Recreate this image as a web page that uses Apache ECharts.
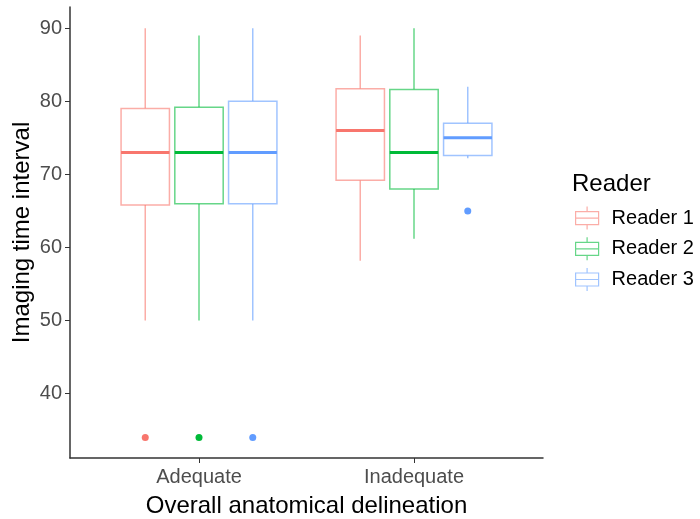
<!DOCTYPE html>
<html>
<head>
<meta charset="utf-8">
<script src="https://cdn.jsdelivr.net/npm/echarts@6/dist/echarts.min.js"></script>
<style>
  html, body { margin: 0; padding: 0; background: #fff; }
  #chart { width: 700px; height: 519px; }
</style>
</head>
<body>
<div id="chart"></div>
<script>
// categories and readers
const categories = ['Adequate', 'Inadequate']
const readers = ['Reader 1', 'Reader 2', 'Reader 3']
const colors = ['#F8766D', '#00BA38', '#619CFF']
const yTicks = [40, 50, 60, 70, 80, 90]

// box stats per reader: [low whisker, Q1, median, Q3, high whisker], one row per category
const reader1Boxes = [[50, 65.8, 73, 79, 90], [58.2, 69.2, 76, 81.7, 89]]
const reader2Boxes = [[50, 66, 73, 79.2, 89], [61.2, 68, 73, 81.6, 90]]
const reader3Boxes = [[50, 66, 73, 80, 90], [72.2, 72.6, 75, 77, 82]]

// outliers: [category index, value]
const reader1Outliers = [[0, 34]]
const reader2Outliers = [[0, 34]]
const reader3Outliers = [[0, 34], [1, 65]]

const boxesByReader = [reader1Boxes, reader2Boxes, reader3Boxes]
const outliersByReader = [reader1Outliers, reader2Outliers, reader3Outliers]

const dodge = 0.25
const boxWidth = 0.225
const font = '"Liberation Sans", Arial, sans-serif'

function hexAlpha(hex, a) {
  const n = parseInt(hex.slice(1), 16)
  return 'rgba(' + (n >> 16) + ',' + ((n >> 8) & 255) + ',' + (n & 255) + ',' + a + ')'
}

const series = []
readers.forEach(function (name, r) {
  const color = colors[r]
  const offset = (r - 1) * dodge
  series.push({
    name: name,
    type: 'custom',
    coordinateSystem: 'cartesian2d',
    itemStyle: { color: color },
    data: boxesByReader[r].map(function (b, c) {
      return [c + 1 + offset].concat(b)
    }),
    renderItem: function (params, api) {
      const x = api.value(0)
      const lo = api.coord([x, api.value(1)])
      const q1 = api.coord([x, api.value(2)])
      const med = api.coord([x, api.value(3)])
      const q3 = api.coord([x, api.value(4)])
      const hi = api.coord([x, api.value(5)])
      const left = api.coord([x - boxWidth / 2, 0])[0]
      const right = api.coord([x + boxWidth / 2, 0])[0]
      const cx = lo[0]
      const edge = hexAlpha(color, 0.6)
      return {
        type: 'group',
        children: [
          { type: 'line', shape: { x1: cx, y1: hi[1], x2: cx, y2: q3[1] }, style: { stroke: edge, lineWidth: 1.5 } },
          { type: 'line', shape: { x1: cx, y1: q1[1], x2: cx, y2: lo[1] }, style: { stroke: edge, lineWidth: 1.5 } },
          { type: 'rect', shape: { x: left, y: q3[1], width: right - left, height: q1[1] - q3[1] }, style: { fill: '#fff', stroke: edge, lineWidth: 1.5 } },
          { type: 'line', shape: { x1: left, y1: med[1], x2: right, y2: med[1] }, style: { stroke: color, lineWidth: 3 } }
        ]
      }
    }
  })
  series.push({
    name: name,
    type: 'scatter',
    symbolSize: 7,
    itemStyle: { color: color, opacity: 1 },
    data: outliersByReader[r].map(function (o) {
      return [o[0] + 1 + offset, o[1]]
    })
  })
})

const boxIcon = 'path://M11.5,0 L11.5,5 M0,5 L23,5 L23,18 L0,18 Z M0,11.5 L23,11.5 M11.5,18 L11.5,23'

const chart = echarts.init(document.getElementById('chart'))
chart.setOption({
  animation: false,
  backgroundColor: '#fff',
  title: {
    text: 'Reader',
    left: 567,
    top: 167,
    textStyle: { fontFamily: font, fontSize: 24, fontWeight: 'normal', color: '#000' }
  },
  legend: {
    orient: 'vertical',
    left: 570,
    top: 201,
    itemWidth: 23,
    itemHeight: 23,
    itemGap: 6.5,
    selectedMode: false,
    textStyle: { fontFamily: font, fontSize: 20, color: '#000', padding: [0, 0, 0, 8] },
    data: readers.map(function (name, r) {
      return {
        name: name,
        icon: boxIcon,
        itemStyle: { color: 'transparent', borderColor: hexAlpha(colors[r], 0.6), borderWidth: 1.2 }
      }
    })
  },
  grid: { left: 70, right: 157, top: 7, bottom: 61, outerBoundsMode: 'none', containLabel: false },
  xAxis: {
    type: 'value',
    min: 0.4,
    max: 2.6,
    name: 'Overall anatomical delineation',
    nameLocation: 'middle',
    nameGap: 36,
    nameMoveOverlap: false,
    nameTextStyle: { fontFamily: font, fontSize: 24, color: '#000' },
    splitLine: { show: false },
    axisLine: { show: true, onZero: false, lineStyle: { color: '#333', width: 1.5 } },
    axisTick: { show: true, length: 5, customValues: [1, 2], lineStyle: { color: '#333' } },
    axisLabel: {
      customValues: [1, 2],
      fontFamily: font,
      fontSize: 20,
      color: '#4D4D4D',
      margin: 9,
      formatter: function (v) { return categories[Math.round(v) - 1] }
    }
  },
  yAxis: {
    type: 'value',
    min: 31.2,
    max: 92.9,
    name: 'Imaging time interval',
    nameLocation: 'middle',
    nameGap: 36,
    nameMoveOverlap: false,
    nameTextStyle: { fontFamily: font, fontSize: 24, color: '#000' },
    splitLine: { show: false },
    axisLine: { show: true, onZero: false, lineStyle: { color: '#333', width: 1.5 } },
    axisTick: { show: true, length: 5, customValues: yTicks, lineStyle: { color: '#333' } },
    axisLabel: {
      customValues: yTicks,
      fontFamily: font,
      fontSize: 20,
      color: '#4D4D4D',
      margin: 8
    }
  },
  series: series
})
</script>
</body>
</html>
